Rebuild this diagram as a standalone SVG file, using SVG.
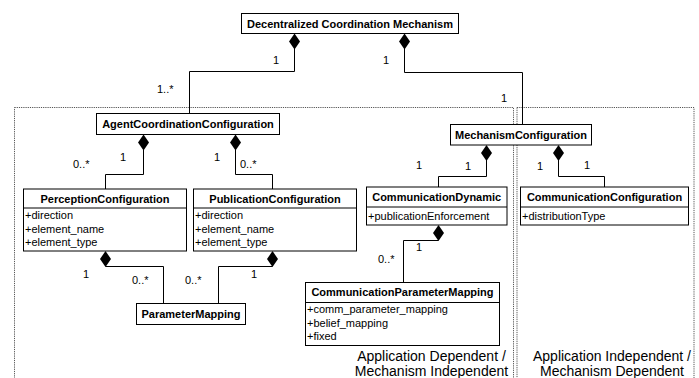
<svg xmlns="http://www.w3.org/2000/svg" width="699" height="378" viewBox="0 0 699 378">
<style>
  .box { fill: #fff; stroke: #000; stroke-width: 1; }
  .sep { stroke: #000; stroke-width: 1; }
  .title { font-family: "Liberation Sans", Arial, sans-serif; font-size: 11px; font-weight: bold; text-anchor: middle; fill: #000; }
  .attr { font-family: "Liberation Sans", Arial, sans-serif; font-size: 11px; fill: #000; }
  .mult { font-family: "Liberation Sans", Arial, sans-serif; font-size: 11px; fill: #000; }
  .region { fill: none; stroke: #555; stroke-width: 1; stroke-dasharray: 1.2 1; }
  .area { font-family: "Liberation Sans", Arial, sans-serif; font-size: 14px; text-anchor: middle; fill: #000; }
  .conn { fill: none; stroke: #000; stroke-width: 1; }
  .dia { fill: #000; stroke: none; }
</style>
<defs>
  <path id="diamond" d="M0 0 L5.5 8 L0 16 L-5.5 8 Z"/>
</defs>

<g id="regions">
  <rect class="region" x="14.5" y="107.5" width="499" height="290"/>
  <rect class="region" x="517" y="107.5" width="177" height="290"/>
  <text class="area" x="431.5" y="360.5">Application Dependent /</text>
  <text class="area" x="431.5" y="376">Mechanism Independent</text>
  <text class="area" x="612" y="360.5">Application Independent /</text>
  <text class="area" x="612" y="376">Mechanism Dependent</text>
</g>

<g id="connectors">
  <path class="conn" d="M294.5 48 V71.5 H189.5 V113.5"/>
  <path class="conn" d="M404.5 48 V72.5 H522.5 V124.5"/>
  <path class="conn" d="M143.5 150 V174.5 H105.5 V189"/>
  <path class="conn" d="M235.5 150 V174.5 H272.5 V189"/>
  <path class="conn" d="M486.5 160 V176.5 H438.5 V187"/>
  <path class="conn" d="M558.5 160 V176.5 H604.5 V187"/>
  <path class="conn" d="M105.5 266.5 H163.5 V303.5"/>
  <path class="conn" d="M272.5 266.5 H218.5 V303.5"/>
  <path class="conn" d="M438.5 240.5 H403.5 V282.5"/>
  <use href="#diamond" class="dia" x="294.5" y="33.5"/>
  <use href="#diamond" class="dia" x="404.5" y="33.5"/>
  <use href="#diamond" class="dia" x="143.5" y="134.5"/>
  <use href="#diamond" class="dia" x="235.5" y="134.5"/>
  <use href="#diamond" class="dia" x="486.5" y="145"/>
  <use href="#diamond" class="dia" x="558.5" y="145"/>
  <use href="#diamond" class="dia" x="105.5" y="251"/>
  <use href="#diamond" class="dia" x="272.5" y="251"/>
  <use href="#diamond" class="dia" x="438.5" y="225"/>
  <text class="mult" x="273" y="63.5">1</text>
  <text class="mult" x="157" y="93">1..*</text>
  <text class="mult" x="383" y="63.5">1</text>
  <text class="mult" x="501" y="101.5">1</text>
  <text class="mult" x="73" y="168">0..*</text>
  <text class="mult" x="120" y="160.5">1</text>
  <text class="mult" x="214" y="160.5">1</text>
  <text class="mult" x="240" y="168">0..*</text>
  <text class="mult" x="416" y="168.5">1</text>
  <text class="mult" x="465" y="170">1</text>
  <text class="mult" x="537" y="170">1</text>
  <text class="mult" x="584" y="168.5">1</text>
  <text class="mult" x="83" y="277.5">1</text>
  <text class="mult" x="132" y="283.5">0..*</text>
  <text class="mult" x="185" y="283.5">0..*</text>
  <text class="mult" x="251" y="277.5">1</text>
  <text class="mult" x="416" y="251">1</text>
  <text class="mult" x="378" y="263">0..*</text>
</g>

<g id="decentralized">
  <rect class="box" x="241.5" y="13.5" width="217" height="20"/>
  <text class="title" x="350" y="27.5">Decentralized Coordination Mechanism</text>
</g>

<g id="agent">
  <rect class="box" x="96.5" y="113.5" width="183" height="21"/>
  <text class="title" x="188" y="128">AgentCoordinationConfiguration</text>
</g>

<g id="mechanism">
  <rect class="box" x="450.5" y="124.5" width="141" height="20.5"/>
  <text class="title" x="521" y="139">MechanismConfiguration</text>
</g>

<g id="perception">
  <rect class="box" x="23.5" y="189" width="163" height="62"/>
  <line class="sep" x1="23.5" y1="208" x2="186.5" y2="208"/>
  <text class="title" x="105" y="202.5">PerceptionConfiguration</text>
  <text class="attr" x="25" y="219">+direction</text>
  <text class="attr" x="25" y="232.5">+element_name</text>
  <text class="attr" x="25" y="246">+element_type</text>
</g>

<g id="publication">
  <rect class="box" x="193.5" y="189" width="163" height="62"/>
  <line class="sep" x1="193.5" y1="208" x2="356.5" y2="208"/>
  <text class="title" x="275" y="202.5">PublicationConfiguration</text>
  <text class="attr" x="195" y="219">+direction</text>
  <text class="attr" x="195" y="232.5">+element_name</text>
  <text class="attr" x="195" y="246">+element_type</text>
</g>

<g id="commDynamic">
  <rect class="box" x="366.5" y="187" width="140.5" height="38"/>
  <line class="sep" x1="366.5" y1="207" x2="507" y2="207"/>
  <text class="title" x="436.7" y="201">CommunicationDynamic</text>
  <text class="attr" x="368" y="219.5">+publicationEnforcement</text>
</g>

<g id="commConfig">
  <rect class="box" x="520.5" y="187" width="168" height="38"/>
  <line class="sep" x1="520.5" y1="207" x2="688.5" y2="207"/>
  <text class="title" x="604.5" y="201">CommunicationConfiguration</text>
  <text class="attr" x="522" y="219.5">+distributionType</text>
</g>

<g id="parameterMapping">
  <rect class="box" x="136.5" y="303.5" width="109" height="21"/>
  <text class="title" x="191" y="318">ParameterMapping</text>
</g>

<g id="commParamMapping">
  <rect class="box" x="305.5" y="282.5" width="194" height="63"/>
  <line class="sep" x1="305.5" y1="302.5" x2="499.5" y2="302.5"/>
  <text class="title" x="402.5" y="296">CommunicationParameterMapping</text>
  <text class="attr" x="307" y="313">+comm_parameter_mapping</text>
  <text class="attr" x="307" y="326.5">+belief_mapping</text>
  <text class="attr" x="307" y="340">+fixed</text>
</g>
</svg>
